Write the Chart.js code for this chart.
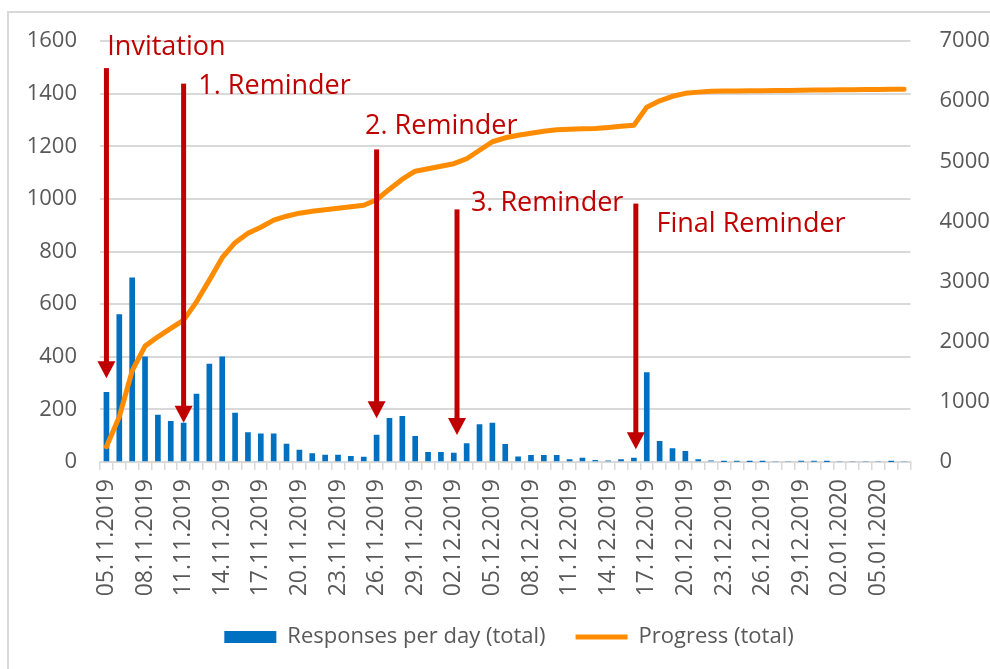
<!DOCTYPE html>
<html lang="en">
<head>
  <meta charset="UTF-8">
  <title>Responses per day</title>
  <script src="https://cdn.jsdelivr.net/npm/chart.js@4"></script>
  <style>
    html, body { margin: 0; padding: 0; background: #fff; overflow: hidden; }
    #wrap { position: relative; width: 990px; height: 669px; }
    #frame { position: absolute; left: 7px; top: 11px; width: 1000px; height: 700px; border: 2px solid #d9d9d9; }
    #chart { position: absolute; left: 0; top: 0; }
  </style>
</head>
<body>
<div id="wrap">
  <div id="frame"></div>
  <canvas id="chart" width="990" height="669"></canvas>
</div>

<script>
  // one category per day (no entry for 01.01.2020), a label is shown every third day
  const days = [
    '05.11.2019', '06.11.2019', '07.11.2019', '08.11.2019', '09.11.2019', '10.11.2019', '11.11.2019',
    '12.11.2019', '13.11.2019', '14.11.2019', '15.11.2019', '16.11.2019', '17.11.2019', '18.11.2019',
    '19.11.2019', '20.11.2019', '21.11.2019', '22.11.2019', '23.11.2019', '24.11.2019', '25.11.2019',
    '26.11.2019', '27.11.2019', '28.11.2019', '29.11.2019', '30.11.2019', '01.12.2019', '02.12.2019',
    '03.12.2019', '04.12.2019', '05.12.2019', '06.12.2019', '07.12.2019', '08.12.2019', '09.12.2019',
    '10.12.2019', '11.12.2019', '12.12.2019', '13.12.2019', '14.12.2019', '15.12.2019', '16.12.2019',
    '17.12.2019', '18.12.2019', '19.12.2019', '20.12.2019', '21.12.2019', '22.12.2019', '23.12.2019',
    '24.12.2019', '25.12.2019', '26.12.2019', '27.12.2019', '28.12.2019', '29.12.2019', '30.12.2019',
    '31.12.2019', '02.01.2020', '03.01.2020', '04.01.2020', '05.01.2020', '06.01.2020', '07.01.2020'
  ];

  const responses = [
    265, 560, 700, 400, 178, 155, 148, 258, 372, 400, 186, 112, 107, 107, 68, 45, 32, 26, 26, 22, 19,
    102, 166, 174, 98, 37, 37, 34, 70, 142, 148, 67, 20, 25, 25, 25, 9, 15, 6, 4, 9, 15,
    340, 79, 51, 41, 9, 4, 1, 2, 1, 1, 0, 0, 2, 2, 1, 0, 0, 0, 0, 1, 0
  ];

  const progress = [
    254, 753, 1515, 1927, 2082, 2221, 2359, 2663, 3024, 3398, 3647, 3805, 3904, 4021, 4087, 4137, 4170,
    4195, 4220, 4245, 4270, 4360, 4536, 4702, 4835, 4877, 4918, 4960, 5042, 5184, 5325, 5391, 5433,
    5466, 5499, 5524, 5532, 5541, 5544, 5561, 5582, 5599, 5900, 6006, 6081, 6130, 6150, 6164, 6167,
    6170, 6172, 6174, 6176, 6178, 6181, 6184, 6187, 6189, 6191, 6192, 6194, 6196, 6197
  ];

  // mailing events: arrow position (day index), arrow top and tip (left axis units)
  const eventNames = ['Invitation', '1. Reminder', '2. Reminder', '3. Reminder', 'Final Reminder'];
  const eventDay = [0, 6, 21, 27.25, 41.15];
  const arrowTop = [1497, 1438, 1188, 960, 982];
  const arrowTip = [318, 149, 166, 103, 48];
  // where each caption starts (day index) and its baseline (left axis units)
  const captionDay = [0.07, 7.14, 20.1, 28.33, 42.76];
  const captionAt = [1548, 1398, 1248, 954, 875];

  const RED = '#C00000';

  const eventArrows = {
    id: 'eventArrows',
    afterDatasetsDraw(chart) {
      const ctx = chart.ctx;
      const x = chart.scales.x, y = chart.scales.y;
      ctx.save();
      ctx.fillStyle = RED;
      ctx.font = '27px "Open Sans"';
      ctx.textAlign = 'left';
      ctx.textBaseline = 'alphabetic';
      for (let i = 0; i < eventNames.length; i++) {
        const px = x.getPixelForValue(eventDay[i]);
        const top = y.getPixelForValue(arrowTop[i]);
        const tip = y.getPixelForValue(arrowTip[i]);
        const head = 17;
        ctx.fillRect(px - 2.5, top, 5, tip - head - top + 1);
        ctx.beginPath();
        ctx.moveTo(px - 9, tip - head);
        ctx.lineTo(px + 9, tip - head);
        ctx.lineTo(px, tip);
        ctx.closePath();
        ctx.fill();
        ctx.fillText(eventNames[i], x.getPixelForValue(captionDay[i]), y.getPixelForValue(captionAt[i]));
      }
      ctx.restore();
    }
  };

  Chart.defaults.font.family = '"Open Sans", "Noto Sans", sans-serif';
  Chart.defaults.font.size = 23;
  Chart.defaults.color = '#595959';

  new Chart(document.getElementById('chart'), {
    data: {
      labels: days,
      datasets: [
        {
          type: 'bar',
          label: 'Responses per day (total)',
          data: responses,
          backgroundColor: '#0070C0',
          borderWidth: 0,
          barThickness: 5,
          yAxisID: 'y',
          order: 2
        },
        {
          type: 'line',
          label: 'Progress (total)',
          data: progress,
          borderColor: '#FF8C00',
          backgroundColor: '#FF8C00',
          borderWidth: 5,
          borderCapStyle: 'round',
          borderJoinStyle: 'round',
          pointRadius: 0,
          tension: 0,
          yAxisID: 'y1',
          order: 1
        }
      ]
    },
    options: {
      responsive: false,
      animation: false,
      devicePixelRatio: 1,
      layout: { padding: { left: 28, right: 0, top: 41, bottom: 11 } },
      plugins: {
        tooltip: { enabled: false },
        legend: {
          position: 'bottom',
          labels: {
            font: { size: 22 },
            color: '#595959',
            usePointStyle: true,
            pointStyleWidth: 52,
            boxHeight: 12,
            padding: 30,
            generateLabels(chart) {
              const items = Chart.defaults.plugins.legend.labels.generateLabels(chart);
              items.forEach(it => {
                const ds = chart.data.datasets[it.datasetIndex];
                it.pointStyle = ds.type === 'line' ? 'line' : 'rect';
                it.lineWidth = ds.type === 'line' ? 5 : 0;
              });
              return items.sort((a, b) => a.datasetIndex - b.datasetIndex);
            }
          }
        }
      },
      scales: {
        x: {
          afterFit(scale) { scale.height = 134; },
          grid: { display: true, drawOnChartArea: false, drawTicks: true, tickLength: 8, color: '#d9d9d9', lineWidth: 1.5, offset: true },
          border: { color: '#d9d9d9', width: 2 },
          ticks: {
            autoSkip: false,
            minRotation: 90,
            maxRotation: 90,
            padding: 9,
            callback: function (value, index) {
              return index % 3 === 0 ? this.getLabelForValue(value) : '';
            }
          }
        },
        y: {
          position: 'left',
          min: 0,
          max: 1600,
          afterFit(scale) { scale.width = 72; },
          grid: { color: '#d9d9d9', lineWidth: 2, drawTicks: false },
          border: { display: false },
          ticks: { stepSize: 200, padding: 23, font: { size: 22 }, callback: v => String(v) }
        },
        y1: {
          position: 'right',
          min: 0,
          max: 7000,
          afterFit(scale) { scale.width = 79.5; },
          grid: { display: false },
          border: { display: false },
          ticks: { stepSize: 1000, padding: 21, font: { size: 22 }, callback: v => String(v) }
        }
      }
    },
    plugins: [eventArrows]
  });
</script>
</body>
</html>
